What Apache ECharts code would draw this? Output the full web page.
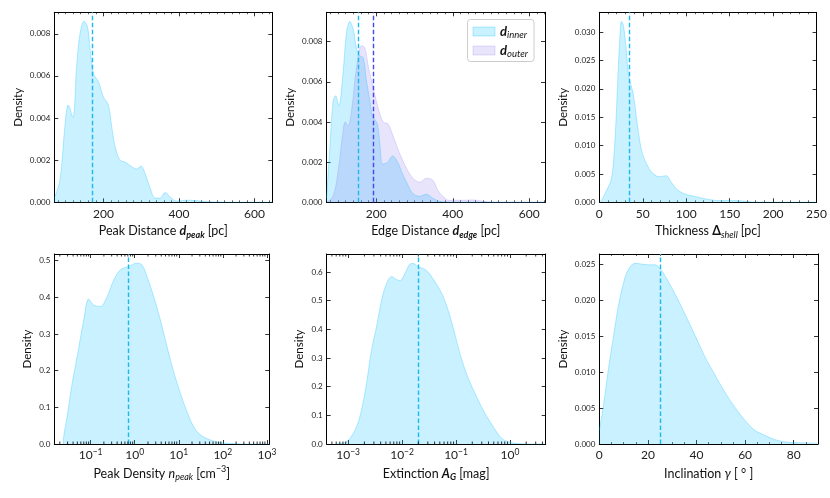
<!DOCTYPE html>
<html><head><meta charset="utf-8">
<script src="https://cdn.jsdelivr.net/npm/echarts@6/dist/echarts.min.js"></script>
<style>html,body{margin:0;padding:0;background:#fff}#c{width:830px;height:498px}</style>
</head><body><div id="c"></div>
<script>
// ---------- data ----------
const peakDistX = [70, 85, 98, 107, 119, 129, 138, 149, 158, 165, 174, 187, 200, 213, 222, 231, 244, 258, 275, 288, 299, 310, 324, 337, 350, 363, 377, 394, 421, 447, 474, 509, 545, 647];
const peakDistY = [0.0002, 0.00106, 0.0036, 0.00462, 0.00403, 0.00643, 0.0080, 0.0086, 0.00833, 0.00722, 0.0061, 0.00572, 0.0050, 0.00462, 0.0036, 0.00264, 0.0020, 0.0019, 0.00169, 0.00158, 0.00172, 0.00138, 0.00066, 0.0002, 0.0002, 0.00046, 0.00024, 0.00006, 0.0001, 0.00008, 0.00003, 0.00001, 0, 0];
const peakDistMedian = 170;

const edgeInnerX = [70, 78, 87, 94, 102, 113, 122, 131, 140, 149, 157, 166, 174, 183, 190, 197, 203, 209, 217, 230, 243, 256, 269, 282, 295, 313, 331, 348, 366, 400, 641];
const edgeInnerY = [0.0002, 0.0025, 0.0050, 0.0053, 0.0048, 0.0064, 0.0084, 0.0090, 0.0086, 0.0076, 0.0073, 0.0072, 0.0061, 0.0051, 0.0043, 0.0041, 0.0039, 0.0030, 0.0019, 0.0020, 0.0023, 0.0020, 0.0014, 0.0009, 0.00045, 0.0003, 0.0004, 0.0002, 0.00005, 0.00001, 0];
const edgeOuterX = [70, 87, 100, 113, 119, 126, 135, 149, 162, 170, 179, 192, 205, 218, 231, 244, 262, 279, 296, 314, 331, 348, 361, 374, 391, 426, 452, 487, 522, 641];
const edgeOuterY = [0, 0.0003, 0.0015, 0.0035, 0.0040, 0.0038, 0.0045, 0.0068, 0.0078, 0.0077, 0.0068, 0.0057, 0.0047, 0.0040, 0.0039, 0.0033, 0.0024, 0.0017, 0.0012, 0.0010, 0.0012, 0.0011, 0.0006, 0.0003, 0.0001, 0.0001, 0.00012, 0.00003, 0, 0];
const edgeInnerMedian = 152;
const edgeOuterMedian = 191;

const thickX = [0, 2, 8, 14, 18, 21.6, 23.5, 25.5, 28, 31, 34, 39, 42.6, 46.4, 50, 56, 61.6, 69, 77, 82.5, 90, 99.6, 111, 122.5, 138, 157, 172, 183, 250];
const thickY = [0, 0.0002, 0.0020, 0.0042, 0.011, 0.0228, 0.0286, 0.0319, 0.0310, 0.0269, 0.0222, 0.0192, 0.0151, 0.011, 0.0084, 0.0063, 0.0051, 0.0045, 0.0047, 0.0036, 0.0022, 0.0014, 0.0010, 0.0006, 0.0003, 0.0003, 0.0001, 0.00003, 0];
const thickMedian = 35;

const nPeakX = [0.024, 0.0245, 0.0293, 0.038, 0.0494, 0.0698, 0.0905, 0.117, 0.167, 0.237, 0.335, 0.474, 0.731, 1.13, 1.47, 1.91, 2.7, 3.83, 5.43, 7.66, 10.9, 15.4, 21.8, 30.9, 52, 88, 176, 355, 1133];
const nPeakY = [0, 0.02, 0.075, 0.165, 0.238, 0.338, 0.395, 0.379, 0.375, 0.402, 0.447, 0.475, 0.484, 0.493, 0.488, 0.456, 0.402, 0.338, 0.265, 0.197, 0.138, 0.088, 0.047, 0.025, 0.011, 0.004, 0.001, 0, 0];
const nPeakMedian = 0.72;

const extX = [0.0006, 0.00087, 0.00108, 0.00143, 0.00177, 0.00219, 0.00271, 0.00336, 0.00416, 0.00515, 0.00638, 0.0079, 0.0091, 0.0113, 0.014, 0.0161, 0.02, 0.0284, 0.0407, 0.058, 0.0828, 0.118, 0.169, 0.241, 0.344, 0.491, 0.7, 1.0, 1.53, 2.7, 4.6];
const extY = [0, 0.005, 0.02, 0.06, 0.119, 0.212, 0.328, 0.409, 0.502, 0.56, 0.584, 0.574, 0.57, 0.595, 0.628, 0.63, 0.619, 0.605, 0.566, 0.514, 0.427, 0.316, 0.229, 0.165, 0.107, 0.06, 0.02, 0.006, 0.001, 0, 0];
const extMedian = 0.02;

const inclX = [0, 1.6, 3.7, 5.8, 7.8, 9.9, 11.9, 14.7, 17.4, 20.2, 22.9, 25, 27.7, 31.1, 35.2, 39.4, 43.5, 47.6, 51.7, 55.8, 59.9, 64, 68.2, 72.3, 76.4, 80.5, 90];
const inclY = [0.0019, 0.0051, 0.0103, 0.0149, 0.0191, 0.0223, 0.0242, 0.0251, 0.025, 0.0249, 0.0249, 0.0244, 0.023, 0.0209, 0.0181, 0.0151, 0.0121, 0.0096, 0.0072, 0.0051, 0.0033, 0.0019, 0.0012, 0.0006, 0.0003, 0.0002, 0.0001];
const inclMedian = 25;

const legendNames = ['inner', 'outer'];

// ---------- style ----------
const FONT = 'Lato, "DejaVu Sans", sans-serif';
const CY_FILL = 'rgba(0,191,255,0.21)', CY_LINE = 'rgba(0,191,255,0.28)', CY_DASH = '#1ab9ee';
const PU_FILL = 'rgba(123,104,238,0.18)', PU_LINE = 'rgba(123,104,238,0.2)', PU_DASH = '#4646f5';

const pair = (xs, ys) => xs.map((x, i) => [x, ys[i]]);
const logFmt = v => '10{sp|' + String(Math.round(Math.log10(v))).replace('-', '−') + '}';

const richTitle = {
  b: {fontFamily: FONT, fontSize: 12.5, fontWeight: 'bold', fontStyle: 'italic', color: '#111', lineHeight: 17},
  s: {fontFamily: FONT, fontSize: 9, fontWeight: 'bold', fontStyle: 'italic', color: '#111', verticalAlign: 'bottom'},
  i: {fontFamily: FONT, fontSize: 12.5, fontStyle: 'italic', color: '#111', lineHeight: 17},
  is: {fontFamily: FONT, fontSize: 9, fontStyle: 'italic', color: '#111', verticalAlign: 'bottom'},
  r: {fontFamily: FONT, fontSize: 12.5, fontWeight: 'bold', color: '#111', lineHeight: 17},
  sp: {fontFamily: FONT, fontSize: 9, color: '#111', verticalAlign: 'top'}
};
const richTick = {
  sp: {fontFamily: FONT, fontSize: 8.5, color: '#222', verticalAlign: 'top'}
};

const panels = [
  {grid: {left: 54.3, top: 12.3, width: 218, height: 190},
   x: {type: 'value', min: 70, max: 647, splitNumber: 3, minor: 10},
   y: {max: 0.00902, interval: 0.002, dec: 3}, yGap: 30,
   name: 'Peak Distance {b|d}{s|peak} [pc]', xGap: 17},
  {grid: {left: 326.5, top: 12.3, width: 218.5, height: 190},
   x: {type: 'value', min: 70, max: 641, splitNumber: 3, minor: 10},
   y: {max: 0.00946, interval: 0.002, dec: 3}, yGap: 30,
   name: 'Edge Distance {b|d}{s|edge} [pc]', xGap: 17},
  {grid: {left: 599.3, top: 12.3, width: 218.7, height: 190},
   x: {type: 'value', min: 0, max: 250, interval: 50, minor: 5},
   y: {max: 0.0335, interval: 0.005, dec: 3}, yGap: 30,
   name: 'Thickness {r|Δ}{is|shell} [pc]', xGap: 17},
  {grid: {left: 54.3, top: 254, width: 215, height: 190},
   x: {type: 'log', min: 0.015, max: 1133},
   y: {max: 0.518, interval: 0.1, dec: 1}, yGap: 21,
   name: 'Peak Density {i|n}{is|peak} [cm{sp|−3}]', xGap: 21},
  {grid: {left: 326.7, top: 254, width: 219, height: 190},
   x: {type: 'log', min: 0.0004, max: 4.6},
   y: {max: 0.663, interval: 0.1, dec: 1}, yGap: 21,
   name: 'Extinction {b|A}{s|G} [mag]', xGap: 21},
  {grid: {left: 599.3, top: 254, width: 218.7, height: 190},
   x: {type: 'value', min: 0, max: 90, interval: 20, minor: 4},
   y: {max: 0.0264, interval: 0.005, dec: 3}, yGap: 30,
   name: 'Inclination {i|γ} [ ° ]', xGap: 21}
];

const grids = [], xAxes = [], yAxes = [];
panels.forEach((p, gi) => {
  grids.push(p.grid);
  ['bottom', 'top'].forEach(pos => {
    const main = pos === 'bottom';
    const isLog = p.x.type === 'log';
    const a = {
      type: p.x.type, gridIndex: gi, position: pos, min: p.x.min, max: p.x.max,
      axisLine: {show: true, onZero: false, lineStyle: {color: '#000', width: 1}},
      axisTick: {show: true, inside: true, length: 4, lineStyle: {color: '#000', width: 0.8}},
      splitLine: {show: false},
      axisLabel: {show: main, margin: 4, fontFamily: FONT, fontSize: 12, color: '#222', lineHeight: 15,
        showMinLabel: !isLog && p.x.min === 0,
        showMaxLabel: p.x.max === 250,
        rich: richTick,
        formatter: isLog ? logFmt : (v => String(Math.round(v)))}
    };
    if (p.x.interval) a.interval = p.x.interval;
    if (p.x.splitNumber) a.splitNumber = p.x.splitNumber;
    if (p.x.minor) a.minorTick = {show: true, splitNumber: p.x.minor, length: 2, lineStyle: {color: '#000', width: 0.6}};
    if (main) {
      a.name = p.name; a.nameLocation = 'middle'; a.nameGap = p.xGap;
      a.nameTextStyle = {fontFamily: FONT, fontSize: 12.5, color: '#111', lineHeight: 17, rich: richTitle};
    }
    xAxes.push(a);
  });
  ['left', 'right'].forEach(pos => {
    const main = pos === 'left';
    const a = {
      type: 'value', gridIndex: gi, position: pos, min: 0, max: p.y.max, interval: p.y.interval,
      axisLine: {show: true, onZero: false, lineStyle: {color: '#000', width: 1}},
      axisTick: {show: true, inside: true, length: 4, lineStyle: {color: '#000', width: 0.8}},
      splitLine: {show: false},
      axisLabel: {show: main, margin: 4, fontFamily: FONT, fontSize: 8, color: '#222',
        showMaxLabel: false, formatter: v => v.toFixed(p.y.dec)}
    };
    if (main) {
      a.name = 'Density'; a.nameLocation = 'middle'; a.nameGap = p.yGap;
      a.nameTextStyle = {fontFamily: FONT, fontSize: 11.5, color: '#111'};
    }
    yAxes.push(a);
  });
});

function kde(name, gi, xs, ys, fill, line, median, dash) {
  return {
    name: name, type: 'line', xAxisIndex: gi * 2, yAxisIndex: gi * 2,
    data: pair(xs, ys), smooth: 0.35, showSymbol: false, symbol: 'none',
    lineStyle: {color: line, width: 1}, itemStyle: {color: fill},
    areaStyle: {color: fill, opacity: 1},
    markLine: {silent: true, symbol: 'none', label: {show: false},
      lineStyle: {color: dash, type: [4.5, 2.5], width: 1.4},
      data: [{xAxis: median}]},
    animation: false
  };
}

// minor ticks (2..9 x 10^k) for the log axes, placed through the axis scale
function logMinor(gi) {
  const p = panels[gi];
  const vals = [];
  for (let k = Math.floor(Math.log10(p.x.min)); k <= Math.ceil(Math.log10(p.x.max)); k++) {
    for (let m = 2; m <= 9; m++) {
      const v = m * Math.pow(10, k);
      if (v > p.x.min && v < p.x.max) vals.push([v, 0]);
    }
  }
  return {
    type: 'custom', xAxisIndex: gi * 2, yAxisIndex: gi * 2, data: vals, silent: true, z: 10,
    clip: false, animation: false,
    renderItem: (params, api) => {
      const b = api.coord([api.value(0), 0]);
      const t = api.coord([api.value(0), p.y.max]);
      const st = {stroke: '#000', lineWidth: 0.8};
      return {type: 'group', children: [
        {type: 'line', shape: {x1: b[0], y1: b[1], x2: b[0], y2: b[1] - 2.5}, style: st},
        {type: 'line', shape: {x1: t[0], y1: t[1], x2: t[0], y2: t[1] + 2.5}, style: st}
      ]};
    }
  };
}

const series = [
  kde('peak', 0, peakDistX, peakDistY, CY_FILL, CY_LINE, peakDistMedian, CY_DASH),
  kde('inner', 1, edgeInnerX, edgeInnerY, CY_FILL, CY_LINE, edgeInnerMedian, CY_DASH),
  kde('outer', 1, edgeOuterX, edgeOuterY, PU_FILL, PU_LINE, edgeOuterMedian, PU_DASH),
  kde('thick', 2, thickX, thickY, CY_FILL, CY_LINE, thickMedian, CY_DASH),
  kde('npeak', 3, nPeakX, nPeakY, CY_FILL, CY_LINE, nPeakMedian, CY_DASH),
  kde('ext', 4, extX, extY, CY_FILL, CY_LINE, extMedian, CY_DASH),
  kde('incl', 5, inclX, inclY, CY_FILL, CY_LINE, inclMedian, CY_DASH),
  logMinor(3), logMinor(4)
];

const chart = echarts.init(document.getElementById('c'), null, {renderer: 'canvas'});
chart.setOption({
  animation: false,
  backgroundColor: '#fff',
  grid: grids, xAxis: xAxes, yAxis: yAxes, series: series,
  legend: {
    left: 467.5, top: 19.5, orient: 'vertical', itemWidth: 22, itemHeight: 9, itemGap: 3,
    padding: [4, 6, 3, 5], backgroundColor: 'rgba(255,255,255,0.85)',
    borderColor: '#cccccc', borderWidth: 1, borderRadius: 3,
    selectedMode: false,
    data: [
      {name: legendNames[0], icon: 'rect', itemStyle: {color: CY_FILL, borderColor: CY_LINE, borderWidth: 1}},
      {name: legendNames[1], icon: 'rect', itemStyle: {color: PU_FILL, borderColor: PU_LINE, borderWidth: 1}}
    ],
    formatter: n => '{d|d}{s|' + n + '}',
    textStyle: {fontFamily: FONT, color: '#111', lineHeight: 16, rich: {
      d: {fontFamily: FONT, fontSize: 13, fontWeight: 'bold', fontStyle: 'italic', color: '#111', lineHeight: 16},
      s: {fontFamily: FONT, fontSize: 9.5, fontStyle: 'italic', color: '#111', verticalAlign: 'bottom'}
    }}
  }
});
</script>
</body></html>
